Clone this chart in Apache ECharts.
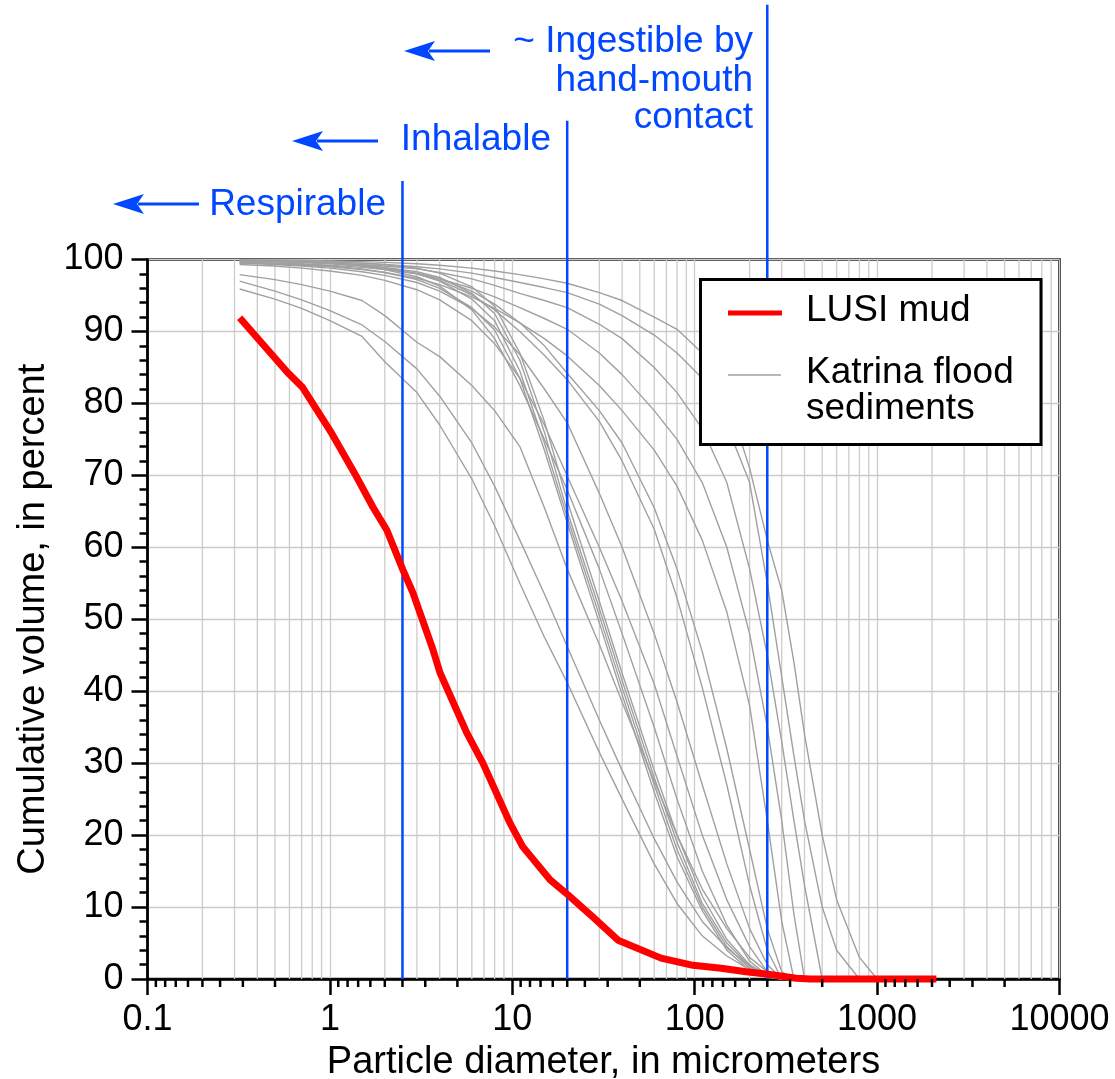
<!DOCTYPE html>
<html>
<head>
<meta charset="utf-8">
<title>LUSI mud vs Katrina flood sediments</title>
<script src="https://cdn.jsdelivr.net/npm/echarts@6/dist/echarts.min.js"></script>
<style>
html,body{margin:0;padding:0;background:#fff;}
#chart{width:1115px;height:1079px;}
</style>
</head>
<body>
<div id="chart"></div>
<script>
// LUSI mud, cumulative volume (%) vs particle diameter (um)
var lusiSize = [0.32,0.586,0.709,1.02,1.40,1.72,2.05,2.51,2.85,3.67,4.01,5.63,6.90,9.70,11.4,16.1,20.2,27.7,38.0,65.4,98,140,191,253,360,430,2113];
var lusiVol  = [91.9,84.3,82.2,75.9,69.8,65.6,62.4,56.9,53.7,45.8,42.6,34.2,30.0,21.7,18.4,13.8,11.7,8.6,5.4,2.9,1.9,1.5,1.0,0.65,0.1,0,0];

// Katrina flood sediments, all measured on the same size bins
var katSize = [0.32,0.5,0.7,1,1.5,2,3,4,6,8,11,15,20,30,40,60,80,110,150,200,250,300,350,400,500,600,800,1000];
var kat01 = [99.9,99.9,99.9,99.8,99.7,99.6,99.4,99.2,98.8,98.4,97.9,97.3,96.7,95.4,94.3,92.0,90.3,87.0,81.0,71.0,61.0,54.0,44.0,34.0,20.0,11.0,3.0,0];
var kat02 = [99.8,99.8,99.7,99.6,99.5,99.3,99.0,98.7,98.1,97.5,96.8,96.1,95.4,93.8,92.2,89.5,87.0,83.5,77.0,69.0,55.0,42.0,31.0,22.0,10.0,4.0,0];
var kat03 = [99.7,99.7,99.6,99.5,99.3,99.1,98.7,98.2,97.3,96.4,95.3,94.3,93.3,91.0,89.0,85.0,81.5,76.5,69.0,57.0,45.0,33.0,22.0,13.0,0];
var kat04 = [99.6,99.5,99.4,99.2,98.9,98.6,98.0,97.3,96.0,94.8,93.3,91.8,90.3,87.0,84.0,79.0,75.0,69.0,60.0,48.0,35.0,22.0,9.0,0];
var kat05 = [99.5,99.4,99.2,99.0,98.6,98.2,97.4,96.5,94.8,93.2,91.2,89.0,86.6,82.5,79.0,73.5,68.5,61.0,51.0,38.0,22.0,8.0,0];
var kat06 = [99.8,99.7,99.6,99.4,99.1,98.8,98.1,97.3,95.6,93.8,91.2,88.0,84.2,79.0,74.5,65.5,57.0,45.5,32.0,18.0,7.0,1.0,0];
var kat07 = [99.9,99.8,99.7,99.5,99.2,98.8,98.0,97.1,95.1,93.0,90.0,86.7,83.3,77.5,72.0,62.5,53.0,40.5,27.0,13.0,4.0,0];
var kat08 = [99.5,99.3,99.1,98.8,98.3,97.8,96.8,95.6,93.2,90.6,86.8,82.0,77.3,67.5,60.0,48.0,38.5,27.0,16.0,7.0,2.0,0];
var kat09 = [99.3,99.1,98.8,98.4,97.8,97.1,95.8,94.4,91.5,88.3,83.5,77.0,69.9,60.0,52.5,41.0,31.0,20.0,11.0,4.5,1.0,0];
var kat10 = [99.9,99.8,99.7,99.5,99.1,98.6,97.6,96.3,93.0,89.0,82.5,75.0,68.0,57.0,48.0,35.0,25.0,15.0,7.5,2.5,0.5,0];
var kat11 = [99.9,99.9,99.8,99.7,99.5,99.3,98.8,98.1,96.2,93.5,87.0,77.5,66.5,52.5,42.5,29.0,20.0,11.5,5.5,2.0,0.5,0];
var kat12 = [99.8,99.7,99.6,99.5,99.2,98.9,98.3,97.5,95.3,92.5,86.0,76.0,65.0,51.5,41.5,28.0,19.0,10.5,5.0,1.8,0.4,0];
var kat13 = [99.9,99.8,99.7,99.5,99.2,98.8,98.0,97.0,94.5,91.5,84.5,74.5,64.2,50.5,40.5,27.0,18.0,10.0,4.5,1.5,0.3,0];
var kat14 = [99.6,99.5,99.3,99.1,98.7,98.2,97.2,96.0,93.3,90.2,83.5,73.5,63.4,49.5,39.5,26.0,17.0,9.5,4.0,1.2,0.2,0];
var kat15 = [97.9,97.2,96.5,95.6,94.3,92.2,88.5,86.5,82.5,79.0,74.0,65.5,57.0,46.5,38.5,27.5,20.0,12.5,7.0,3.0,1.0,0];
var kat16 = [97.0,95.6,94.4,92.9,90.9,88.6,84.8,81.0,74.5,68.5,61.0,53.5,46.2,36.0,29.0,19.5,13.5,8.0,4.3,1.8,0.5,0];
var kat17 = [95.9,94.5,93.2,91.5,89.3,85.8,81.5,77.0,69.5,63.0,55.0,47.5,41.2,31.5,25.0,16.0,10.5,6.0,3.2,1.3,0.3,0];
var katrina = [kat01,kat02,kat03,kat04,kat05,kat06,kat07,kat08,kat09,kat10,kat11,kat12,kat13,kat14,kat15,kat16,kat17];

// size limits (um) and how far above the plot each marker line reaches (%)
var limitSize = [2.5, 20, 250];
var limitTop  = [110.9, 119.3, 135.4];

var xTickLabels = [0.1, 1, 10, 100, 1000, 10000];

var FONT = 'Liberation Sans, Arial, Helvetica, sans-serif';
var BLUE = '#0047ff';

// minor grid at 2..9 per decade; the original's minor ticks sit mirrored inside each decade
var minorGrid = [], minorTicks = [];
for (var e = -1; e <= 3; e++) {
	var d = Math.pow(10, e);
	for (var k = 2; k <= 9; k++) {
		minorGrid.push([k * d, 0]);
		minorTicks.push([d * 10 / (11 - k), 0]);
	}
}

var dom = document.getElementById('chart');
var myChart = echarts.init(dom, null, {renderer: 'canvas'});

var seriesList = [];
seriesList.push({
	type: 'custom',
	z: 1,
	silent: true,
	data: minorGrid,
	renderItem: function (params, api) {
		var a = api.coord([api.value(0), 0]);
		var b = api.coord([api.value(0), 100]);
		return {type: 'line', shape: {x1: a[0], y1: a[1], x2: b[0], y2: b[1]},
			style: {stroke: '#cccccc', lineWidth: 1.3}};
	}
});
for (var i = 0; i < katrina.length; i++) {
	var pts = [];
	for (var j = 0; j < katrina[i].length; j++) {
		pts.push([katSize[j], katrina[i][j]]);
	}
	seriesList.push({
		name: 'Katrina flood sediments',
		type: 'line',
		z: 3,
		symbol: 'none',
		silent: true,
		data: pts,
		lineStyle: {color: '#a0a0a0', width: 1.4},
		itemStyle: {color: '#a0a0a0'}
	});
}
var limits = [];
for (var i = 0; i < limitSize.length; i++) limits.push([limitSize[i], limitTop[i]]);
seriesList.push({
	type: 'custom',
	z: 4,
	clip: false,
	silent: true,
	data: limits,
	renderItem: function (params, api) {
		var a = api.coord([api.value(0), 0]);
		var b = api.coord([api.value(0), api.value(1)]);
		return {type: 'line', shape: {x1: a[0], y1: a[1], x2: b[0], y2: b[1]},
			style: {stroke: BLUE, lineWidth: 2.5}};
	}
});
var lusi = [];
for (var i = 0; i < lusiSize.length; i++) lusi.push([lusiSize[i], lusiVol[i]]);
seriesList.push({
	name: 'LUSI mud',
	type: 'line',
	z: 5,
	symbol: 'none',
	clip: false,
	silent: true,
	data: lusi,
	lineStyle: {color: '#ff0000', width: 7, cap: 'butt', join: 'round'},
	itemStyle: {color: '#ff0000'}
});
seriesList.push({
	type: 'custom',
	z: 6,
	clip: false,
	silent: true,
	data: minorTicks,
	renderItem: function (params, api) {
		var a = api.coord([api.value(0), 0]);
		return {type: 'line', shape: {x1: a[0], y1: a[1], x2: a[0], y2: a[1] + 8},
			style: {stroke: '#000', lineWidth: 2.5}};
	}
});

function arrow(tipX, y, endX) {
	return [
		{type: 'line', z: 50, shape: {x1: tipX + 25, y1: y, x2: endX, y2: y}, style: {stroke: BLUE, lineWidth: 3}},
		{type: 'polygon', z: 50, shape: {points: [[tipX, y], [tipX + 31, y - 10], [tipX + 24, y], [tipX + 31, y + 10]]}, style: {fill: BLUE}}
	];
}
function label(txt, x, y, align, color) {
	return {type: 'text', z: 60, x: x, y: y,
		style: {text: txt, fill: color, font: '37px ' + FONT, align: align, verticalAlign: 'middle'}};
}

var graphics = [];
graphics = graphics.concat(arrow(113, 204, 199), arrow(292, 141, 378), arrow(404, 51, 490));
graphics.push(label('Respirable', 386, 205, 'right', BLUE));
graphics.push(label('Inhalable', 551, 140, 'right', BLUE));
graphics.push(label('~ Ingestible by', 753, 42, 'right', BLUE));
graphics.push(label('hand-mouth', 753, 81, 'right', BLUE));
graphics.push(label('contact', 753, 118, 'right', BLUE));
// legend box
graphics.push({type: 'rect', z: 90, shape: {x: 700.5, y: 279.5, width: 340.5, height: 165},
	style: {fill: '#fff', stroke: '#000', lineWidth: 3}});
graphics.push({type: 'line', z: 91, shape: {x1: 728, y1: 313, x2: 782, y2: 313}, style: {stroke: '#ff0000', lineWidth: 5}});
graphics.push({type: 'line', z: 91, shape: {x1: 728, y1: 375, x2: 781, y2: 375}, style: {stroke: '#a0a0a0', lineWidth: 1.5}});
graphics.push({type: 'text', z: 92, x: 806, y: 311, style: {text: 'LUSI mud', fill: '#000', font: '37px ' + FONT, verticalAlign: 'middle'}});
graphics.push({type: 'text', z: 92, x: 806, y: 373, style: {text: 'Katrina flood', fill: '#000', font: '37px ' + FONT, verticalAlign: 'middle'}});
graphics.push({type: 'text', z: 92, x: 806, y: 409, style: {text: 'sediments', fill: '#000', font: '37px ' + FONT, verticalAlign: 'middle'}});

var option = {
	animation: false,
	backgroundColor: '#fff',
	textStyle: {fontFamily: FONT, color: '#000'},
	grid: {left: 147.5, right: 55.5, top: 259.5, bottom: 100, show: true,
		outerBoundsMode: 'none', containLabel: false,
		borderColor: '#000', borderWidth: 2.5, backgroundColor: 'transparent'},
	xAxis: {
		type: 'log',
		logBase: 10,
		min: 0.1,
		max: 10000,
		name: 'Particle diameter, in micrometers',
		nameLocation: 'middle',
		nameGap: 65,
		nameTextStyle: {fontSize: 38, color: '#000', fontFamily: FONT},
		axisLine: {lineStyle: {color: '#000', width: 2.5}},
		axisTick: {show: true, length: 16, lineStyle: {color: '#000', width: 2.5}},
		axisLabel: {fontSize: 36, color: '#000', margin: 23, fontFamily: FONT,
			formatter: function (v) {
				for (var i = 0; i < xTickLabels.length; i++) {
					if (Math.abs(v - xTickLabels[i]) < xTickLabels[i] * 1e-6) return String(xTickLabels[i]);
				}
				return '';
			}},
		splitLine: {show: true, lineStyle: {color: '#cccccc', width: 1.3}}
	},
	yAxis: {
		type: 'value',
		min: 0,
		max: 100,
		interval: 10,
		name: 'Cumulative volume, in percent',
		nameLocation: 'middle',
		nameGap: 93,
		nameTextStyle: {fontSize: 38, color: '#000', fontFamily: FONT},
		axisLine: {show: true, lineStyle: {color: '#000', width: 2.5}},
		axisTick: {show: true, length: 16, lineStyle: {color: '#000', width: 2.5}},
		minorTick: {show: true, splitNumber: 5, length: 8, lineStyle: {color: '#000', width: 2.5}},
		axisLabel: {fontSize: 36, color: '#000', margin: 24, fontFamily: FONT},
		splitLine: {show: true, lineStyle: {color: '#cccccc', width: 1.3}}
	},
	series: seriesList,
	graphic: graphics
};
myChart.setOption(option);
</script>
</body>
</html>
